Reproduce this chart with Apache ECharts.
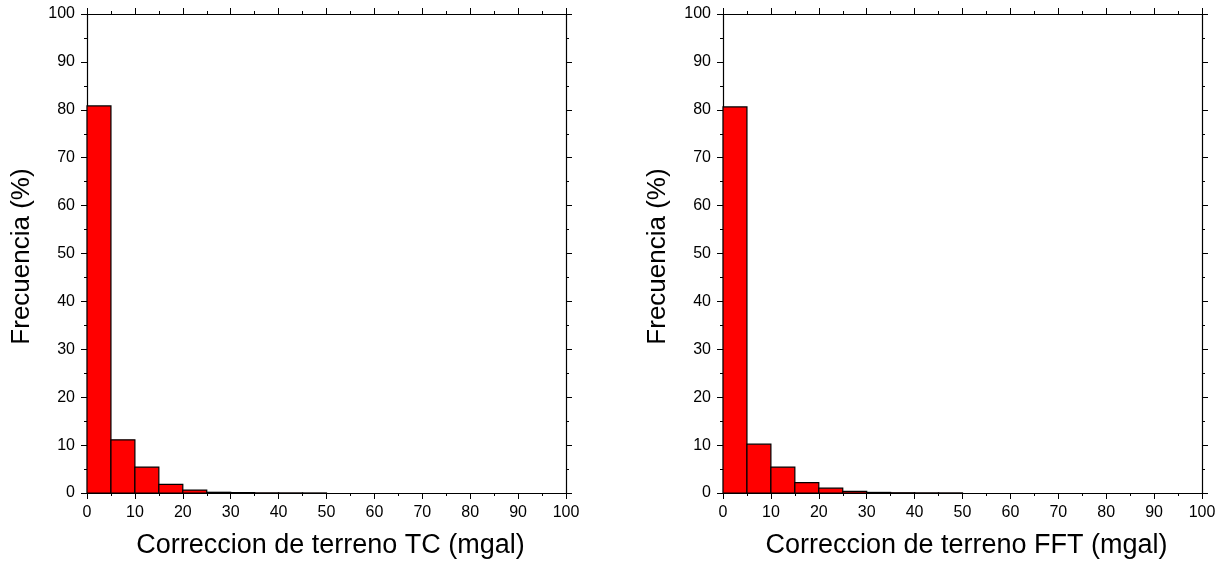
<!DOCTYPE html>
<html>
<head>
<meta charset="utf-8">
<script src="https://cdn.jsdelivr.net/npm/echarts@6/dist/echarts.min.js"></script>
<style>
  html, body { margin: 0; padding: 0; background: #fff; }
  #chart { width: 1225px; height: 565px; }
</style>
</head>
<body>
<div id="chart"></div>
<script>
// Histogram bins (mgal), 5 mgal wide
const binStarts = [0, 5, 10, 15, 20, 25, 30, 35, 40, 45];
const binWidth = 5;
// Frequency (%) per bin, terrain correction by TC method
const freqTC = [80.8, 11.1, 5.4, 1.8, 0.6, 0.15, 0.08, 0.03, 0.02, 0.01];
// Frequency (%) per bin, terrain correction by FFT method
const freqFFT = [80.6, 10.2, 5.4, 2.15, 1.0, 0.35, 0.12, 0.05, 0.03, 0.02];
const xTitles = ['Correccion de terreno TC (mgal)', 'Correccion de terreno FFT (mgal)'];
const yTitle = 'Frecuencia (%)';

const FONT = '"Liberation Sans", Arial, Helvetica, sans-serif';
const grids = [
  { left: 87, top: 14, width: 479, height: 479 },
  { left: 723, top: 14, width: 479, height: 479 }
];

function axisCommon(showLabel) {
  return {
    type: 'value', min: 0, max: 100, interval: 10,
    axisLine: { show: true, onZero: false, lineStyle: { color: '#000', width: 1.2 } },
    axisTick: { show: true, inside: false, length: 6, lineStyle: { color: '#000', width: 1 } },
    minorTick: { show: true, splitNumber: 2, length: 3, lineStyle: { color: '#000', width: 1 } },
    splitLine: { show: false },
    axisLabel: { show: showLabel, color: '#000', fontSize: 16, fontFamily: FONT }
  };
}

const xAxes = [], yAxes = [], series = [];
[freqTC, freqFFT].forEach((freq, g) => {
  const xb = axisCommon(true);
  xb.gridIndex = g; xb.position = 'bottom';
  xb.axisLabel.margin = 12;
  xb.name = xTitles[g]; xb.nameLocation = 'middle'; xb.nameGap = 39;
  xb.nameTextStyle = { color: '#000', fontSize: 27, fontFamily: FONT, padding: [0, 0, 0, 8] };
  const xt = axisCommon(false);
  xt.gridIndex = g; xt.position = 'top';
  const yl = axisCommon(true);
  yl.gridIndex = g; yl.position = 'left';
  yl.axisLabel.margin = 12;
  yl.name = yTitle; yl.nameLocation = 'middle'; yl.nameGap = 52;
  yl.nameTextStyle = { color: '#000', fontSize: 26, fontFamily: FONT, padding: [0, 6, 0, 0] };
  const yr = axisCommon(false);
  yr.gridIndex = g; yr.position = 'right';
  xAxes.push(xb, xt);
  yAxes.push(yl, yr);

  series.push({
    type: 'custom',
    xAxisIndex: g * 2,
    yAxisIndex: g * 2,
    data: binStarts.map((b, i) => [b, b + binWidth, freq[i]]),
    encode: { x: [0, 1], y: 2 },
    renderItem: function (params, api) {
      const p0 = api.coord([api.value(0), 0]);
      const p1 = api.coord([api.value(1), api.value(2)]);
      return {
        type: 'rect',
        shape: { x: p0[0], y: p1[1], width: p1[0] - p0[0], height: p0[1] - p1[1] },
        style: { fill: '#ff0000', stroke: '#000', lineWidth: 1.2 }
      };
    },
    z: 1
  });
});

const chart = echarts.init(document.getElementById('chart'), null, { renderer: 'canvas' });
chart.setOption({
  animation: false,
  backgroundColor: '#fff',
  grid: grids,
  xAxis: xAxes,
  yAxis: yAxes,
  series: series
});
</script>
</body>
</html>
